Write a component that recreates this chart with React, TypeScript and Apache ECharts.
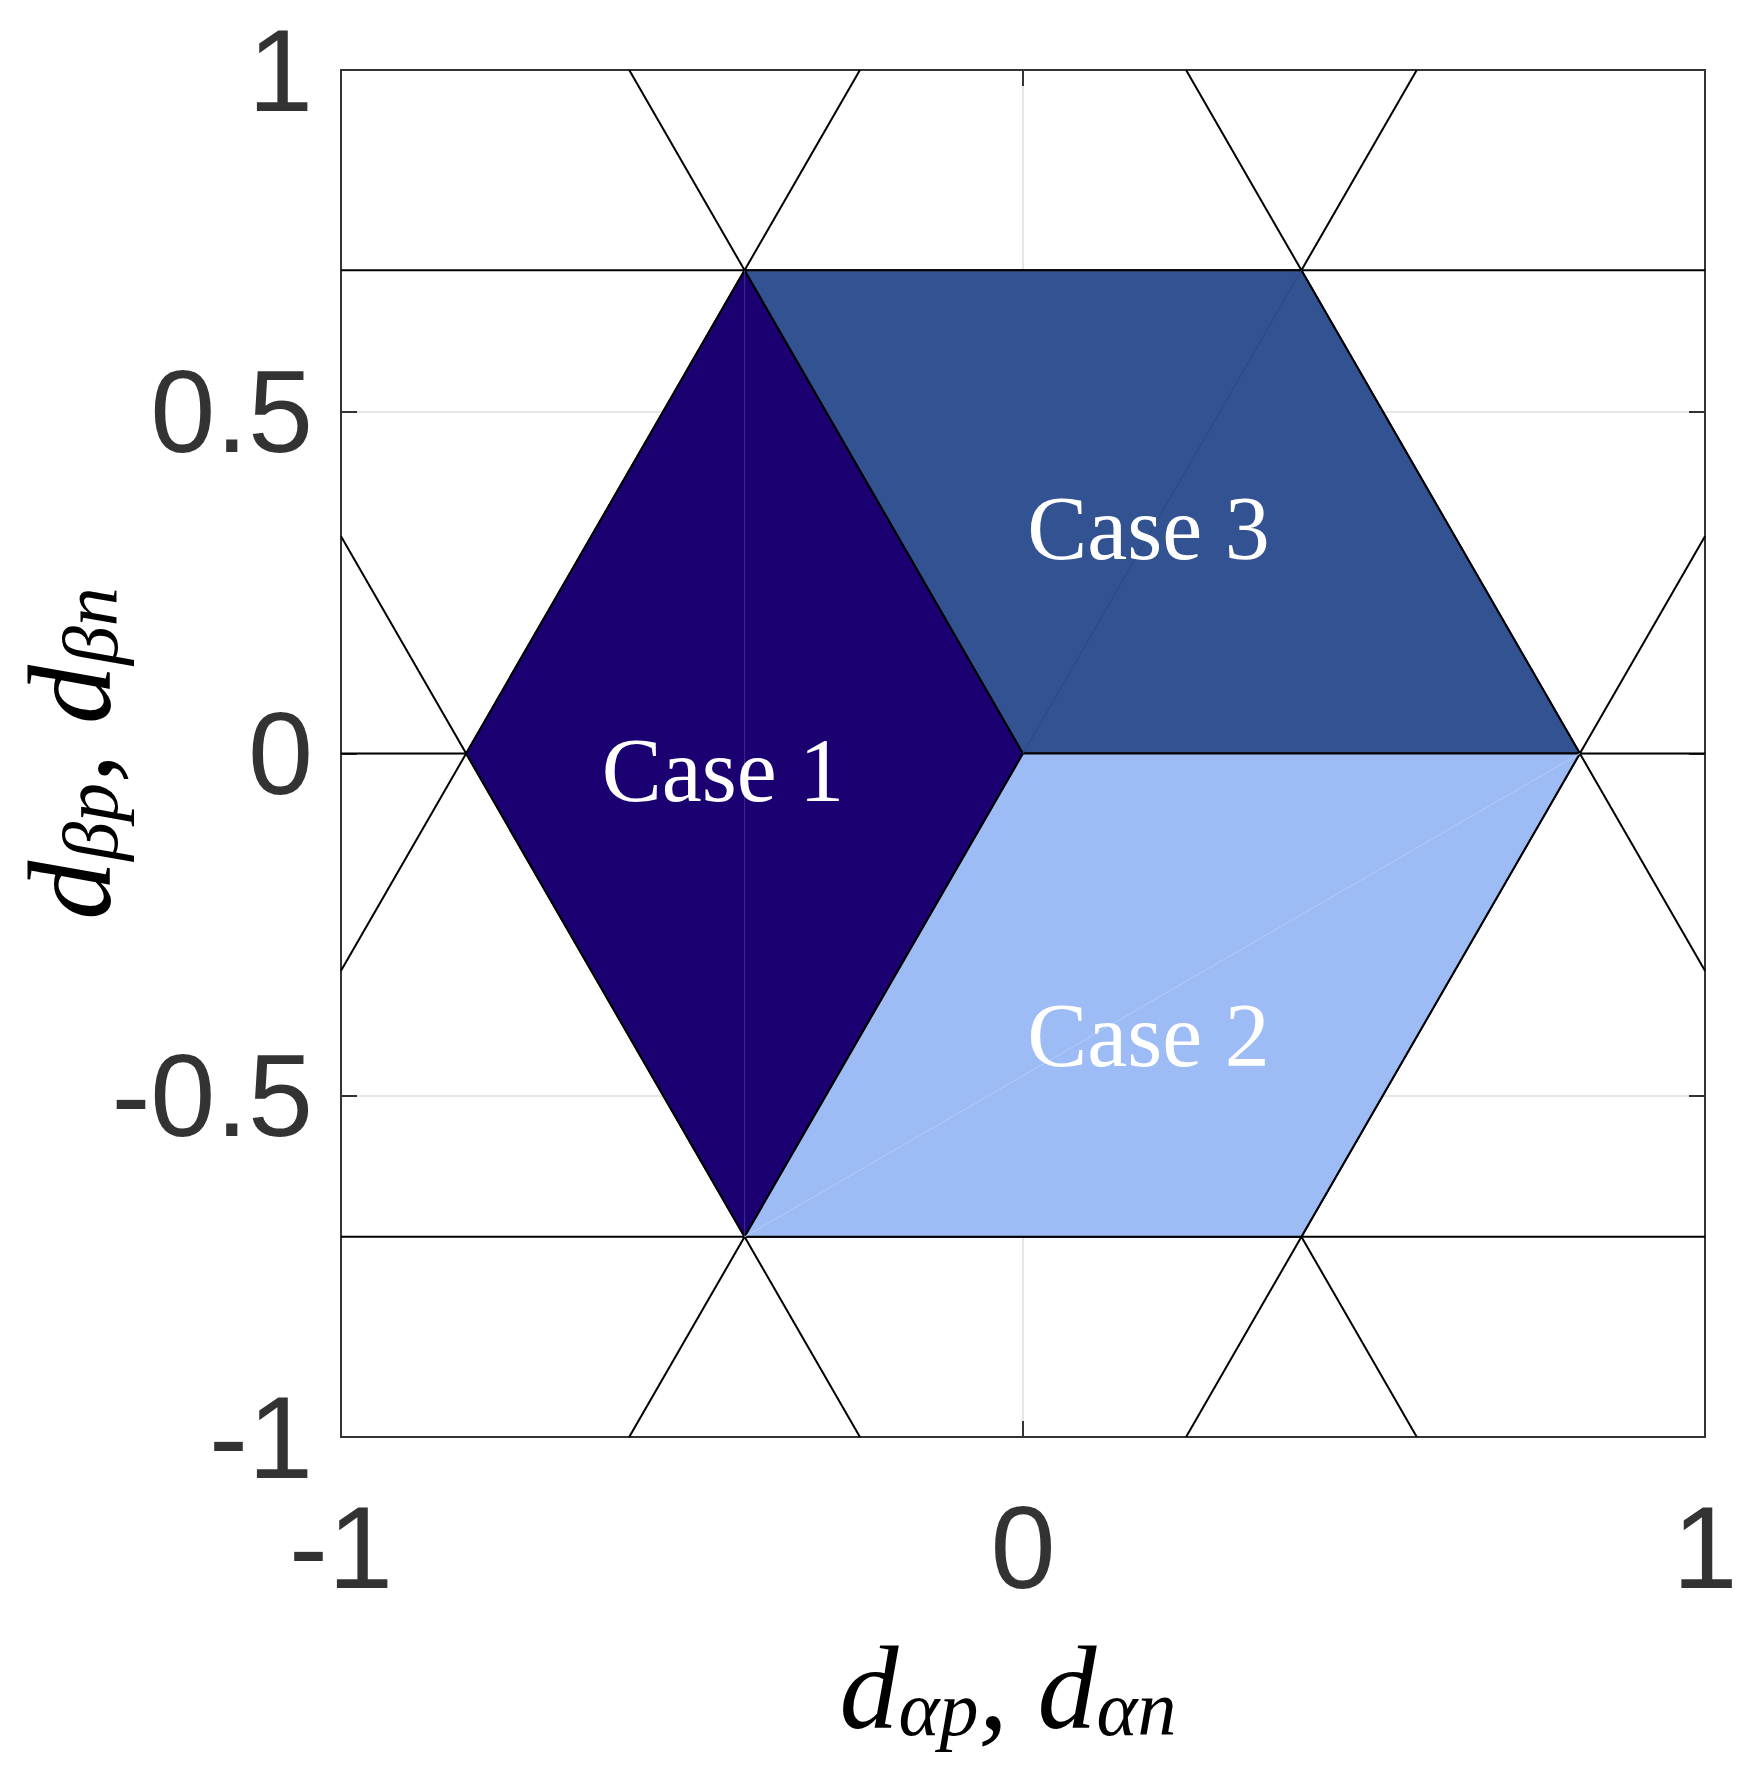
import React, { useEffect, useRef } from 'react';
import * as echarts from 'echarts';

// Axis ranges / ticks
const X_MIN = -1;
const X_MAX = 1;
const X_INTERVAL = 1;
const Y_MIN = -1;
const Y_MAX = 1;
const Y_INTERVAL = 0.5;

// Hexagon regions (vertices)
const CASE1_VERTS = [[-0.8165, 0], [-0.4082, 0.7071], [0, 0], [-0.4082, -0.7071]];
const CASE3_VERTS = [[-0.4082, 0.7071], [0.4082, 0.7071], [0.8165, 0], [0, 0]];
const CASE2_VERTS = [[0, 0], [0.8165, 0], [0.4082, -0.7071], [-0.4082, -0.7071]];
const CASE_REGIONS = [CASE1_VERTS, CASE3_VERTS, CASE2_VERTS];
const CASE_COLORS = ['#1a0070', '#335291', '#9dbcf5'];

// faint triangulation seams inside each region
const SEAM_SEGMENTS = [
  [[-0.4082, 0.7071], [-0.4082, -0.7071]],
  [[0, 0], [0.4082, 0.7071]],
  [[-0.4082, -0.7071], [0.8165, 0]],
];
const SEAM_COLORS = ['#3a2c8e', '#2b477f', '#b3cdf9'];

// black sector lines (clipped to the axes box)
const LINE_SEGMENTS = [
  [[-1, 0.7071], [1, 0.7071]],
  [[-1, 0], [1, 0]],
  [[-1, -0.7071], [1, -0.7071]],
  [[-0.2391, 1], [-1, -0.3178]],
  [[-0.2391, -1], [-1, 0.3178]],
  [[0.2391, -1], [1, 0.3178]],
  [[0.2391, 1], [1, -0.3178]],
  [[-0.5774, -1], [0.5774, 1]],
  [[-0.5774, 1], [0.5774, -1]],
];

// labels
const CASE_NAMES = ['Case 1', 'Case 3', 'Case 2'];
const CASE_LABEL_X = [-0.44, 0.184, 0.184];
const CASE_LABEL_Y = [-0.025, 0.329, -0.412];

const TICK_FONT = 'Liberation Sans, Arial, sans-serif';
const MATH_FONT = 'Liberation Serif, Times New Roman, serif';

export default function App() {
  const ref = useRef<HTMLDivElement>(null);

  useEffect(() => {
    if (!ref.current) return;
    const chart = echarts.init(ref.current, undefined, { renderer: 'svg' });

    const richMath = {
      d: { fontSize: 118, lineHeight: 118, fontFamily: MATH_FONT, fontStyle: 'italic', color: '#000' },
      s: { fontSize: 78, lineHeight: 78, fontFamily: MATH_FONT, fontStyle: 'italic', color: '#000', verticalAlign: 'bottom' },
    };

    const commonAxis = {
      type: 'value',
      axisLine: { show: true, onZero: false, lineStyle: { color: '#333', width: 2 } },
      axisTick: { show: true, inside: true, length: 16, lineStyle: { color: '#333', width: 2 } },
    };

    const lineSeries = LINE_SEGMENTS.map((seg) => ({
      type: 'line',
      data: seg,
      symbol: 'none',
      silent: true,
      z: 2,
      lineStyle: { color: '#000', width: 2 },
    }));

    const regionSeries = CASE_REGIONS.map((verts, i) => ({
      type: 'custom',
      data: verts,
      silent: true,
      z: 3,
      renderItem: (params: any, api: any) => {
        if (params.dataIndex !== 0) return null;
        const pts = verts.map((v) => api.coord(v));
        return {
          type: 'polygon',
          shape: { points: pts },
          style: { fill: CASE_COLORS[i], stroke: '#000', lineWidth: 2, lineJoin: 'miter' },
        };
      },
    }));

    const seamSeries = SEAM_SEGMENTS.map((seg, i) => ({
      type: 'line',
      data: seg,
      symbol: 'none',
      silent: true,
      z: 4,
      lineStyle: { color: SEAM_COLORS[i], width: 1 },
    }));

    const labelData = CASE_NAMES.map((n, i) => [CASE_LABEL_X[i], CASE_LABEL_Y[i], n]);
    const labelSeries = {
      type: 'custom',
      data: labelData,
      silent: true,
      z: 5,
      renderItem: (params: any, api: any) => {
        const p = api.coord([api.value(0), api.value(1)]);
        return {
          type: 'text',
          x: p[0],
          y: p[1],
          style: {
            text: CASE_NAMES[params.dataIndex],
            fill: '#ffffff',
            fontSize: 90,
            fontFamily: MATH_FONT,
            align: 'center',
            verticalAlign: 'middle',
          },
        };
      },
    };

    chart.setOption({
      animation: false,
      backgroundColor: '#ffffff',
      grid: { left: 341, right: 55, top: 70, bottom: 345, containLabel: false, outerBoundsMode: 'none' },
      xAxis: [
        {
          ...commonAxis,
          position: 'bottom',
          min: X_MIN,
          max: X_MAX,
          interval: X_INTERVAL,
          axisLabel: { show: true, fontSize: 117, fontFamily: TICK_FONT, color: '#333', margin: 52 },
          splitLine: { show: true, lineStyle: { color: '#e6e6e6', width: 2 } },
          name: '{d|d}{s|αp}{d|, d}{s|αn}',
          nameLocation: 'middle',
          nameGap: 192,
          nameMoveOverlap: false,
          nameTextStyle: { rich: richMath, padding: [0, 30, 0, 0] },
        },
        {
          ...commonAxis,
          position: 'top',
          min: X_MIN,
          max: X_MAX,
          interval: X_INTERVAL,
          axisLabel: { show: false },
          splitLine: { show: false },
        },
      ],
      yAxis: [
        {
          ...commonAxis,
          position: 'left',
          min: Y_MIN,
          max: Y_MAX,
          interval: Y_INTERVAL,
          axisLabel: { show: true, fontSize: 117, fontFamily: TICK_FONT, color: '#333', margin: 28 },
          splitLine: { show: true, lineStyle: { color: '#e6e6e6', width: 2 } },
          name: '{d|d}{s|βp}{d|, d}{s|βn}',
          nameLocation: 'middle',
          nameRotate: 90,
          nameGap: 212,
          nameMoveOverlap: false,
          nameTextStyle: { rich: richMath },
        },
        {
          ...commonAxis,
          position: 'right',
          min: Y_MIN,
          max: Y_MAX,
          interval: Y_INTERVAL,
          axisLabel: { show: false },
          splitLine: { show: false },
        },
      ],
      series: [...lineSeries, ...regionSeries, ...seamSeries, labelSeries],
    });

    return () => chart.dispose();
  }, []);

  return (
    <div
      ref={ref}
      style={{ position: 'absolute', left: 0, top: 0, width: 1760, height: 1782 }}
    />
  );
}
